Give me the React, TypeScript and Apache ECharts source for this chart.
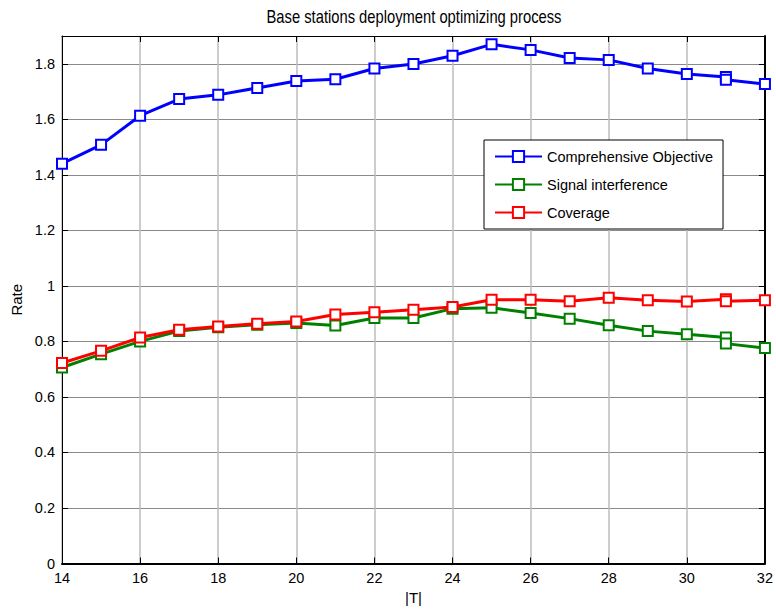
import React, { useEffect, useRef } from "react";
import * as echarts from "echarts";

const xValues = [14, 15, 16, 17, 18, 19, 20, 21, 22, 23, 24, 25, 26, 27, 28, 29, 30, 31, 31, 32];
const comprehensive = [1.44, 1.508, 1.613, 1.673, 1.688, 1.713, 1.738, 1.744, 1.783, 1.799, 1.829, 1.87, 1.85, 1.821, 1.814, 1.783, 1.763, 1.752, 1.742, 1.727];
const interference = [0.706, 0.754, 0.8, 0.837, 0.851, 0.86, 0.866, 0.857, 0.884, 0.884, 0.918, 0.921, 0.902, 0.882, 0.858, 0.837, 0.826, 0.814, 0.792, 0.776];
const coverage = [0.722, 0.766, 0.814, 0.842, 0.854, 0.864, 0.872, 0.897, 0.905, 0.914, 0.924, 0.95, 0.95, 0.945, 0.957, 0.948, 0.944, 0.952, 0.945, 0.948];
const seriesNames = ["Comprehensive Objective", "Signal interference", "Coverage"];
const seriesColors = ["#0000ff", "#008000", "#ff0000"];
const titleText = "Base stations deployment optimizing process";
const xName = "|T|";
const yName = "Rate";

const FONT = "'Liberation Sans', Arial, Helvetica, sans-serif";

export default function App() {
  const ref = useRef<HTMLDivElement>(null);
  useEffect(() => {
    if (!ref.current) return;
    const chart = echarts.init(ref.current, null, { renderer: "svg" });
    const allData = [comprehensive, interference, coverage];
    chart.setOption({
      animation: false,
      backgroundColor: "#ffffff",
      textStyle: { fontFamily: FONT },
      graphic: [
        {
          type: "text",
          x: 414,
          y: 16,
          scaleX: 0.82,
          style: {
            text: titleText,
            textAlign: "center",
            textVerticalAlign: "middle",
            fontSize: 18,
            fontFamily: FONT,
            fill: "#000",
          },
        },
      ],
      grid: { left: 62, right: 6, top: 36, bottom: 52.5, containLabel: false },
      legend: {
        orient: "vertical",
        left: 484,
        top: 140,
        data: seriesNames,
        backgroundColor: "#fff",
        borderColor: "#000",
        borderWidth: 1,
        borderRadius: 0,
        padding: [9, 10, 9, 10],
        itemWidth: 47,
        itemHeight: 14,
        itemGap: 13,
        textStyle: { fontSize: 14.5, lineHeight: 14, fontFamily: FONT, color: "#000" },
      },
      xAxis: [
        {
          type: "value",
          min: 14,
          max: 32,
          interval: 2,
          name: xName,
          nameLocation: "middle",
          nameGap: 23,
          nameTextStyle: { fontSize: 15, fontFamily: FONT, color: "#000" },
          axisLine: { show: true, onZero: false, lineStyle: { color: "#000", width: 2 } },
          axisTick: { show: true, inside: true, length: 6, lineStyle: { color: "#000" } },
          axisLabel: { fontSize: 14.5, fontFamily: FONT, color: "#000", margin: 7 },
          splitLine: { show: true, lineStyle: { color: "#bdbdbd", type: "solid", width: 1.5 } },
        },
        {
          type: "value",
          position: "top",
          min: 14,
          max: 32,
          interval: 2,
          axisLine: { show: true, onZero: false, lineStyle: { color: "#000", width: 1 } },
          axisTick: { show: true, inside: true, length: 6, lineStyle: { color: "#000" } },
          axisLabel: { show: false },
          splitLine: { show: false },
        },
      ],
      yAxis: [
        {
          type: "value",
          min: 0,
          max: 1.9,
          interval: 0.2,
          name: yName,
          nameLocation: "middle",
          nameGap: 38,
          nameRotate: 90,
          nameTextStyle: { fontSize: 15, fontFamily: FONT, color: "#000" },
          axisLine: { show: true, onZero: false, lineStyle: { color: "#000", width: 1 } },
          axisTick: { show: true, inside: true, length: 6, lineStyle: { color: "#000" } },
          axisLabel: {
            fontSize: 14.5,
            fontFamily: FONT,
            color: "#000",
            margin: 7,
            showMaxLabel: false,
            formatter: (v: number) => String(Math.round(v * 10) / 10),
          },
          splitLine: { show: true, lineStyle: { color: "#8a8a8a", type: "solid", width: 1 } },
        },
        {
          type: "value",
          position: "right",
          min: 0,
          max: 1.9,
          interval: 0.2,
          axisLine: { show: true, onZero: false, lineStyle: { color: "#000", width: 2 } },
          axisTick: { show: true, inside: true, length: 6, lineStyle: { color: "#000" } },
          axisLabel: { show: false },
          splitLine: { show: false },
        },
      ],
      series: seriesNames.map((name, i) => ({
        name,
        type: "line",
        xAxisIndex: 0,
        yAxisIndex: 0,
        data: xValues.map((x, j) => [x, allData[i][j]]),
        symbol: "emptyRect",
        symbolSize: 10,
        color: seriesColors[i],
        lineStyle: { color: seriesColors[i], width: 3 },
        itemStyle: { color: seriesColors[i], borderColor: seriesColors[i], borderWidth: 2 },
        clip: false,
        z: i === 2 ? 4 : 3,
      })),
    });
    return () => chart.dispose();
  }, []);
  return (
    <div
      ref={ref}
      style={{ position: "fixed", left: 0, top: 0, width: 776, height: 616, background: "#fff" }}
    />
  );
}
